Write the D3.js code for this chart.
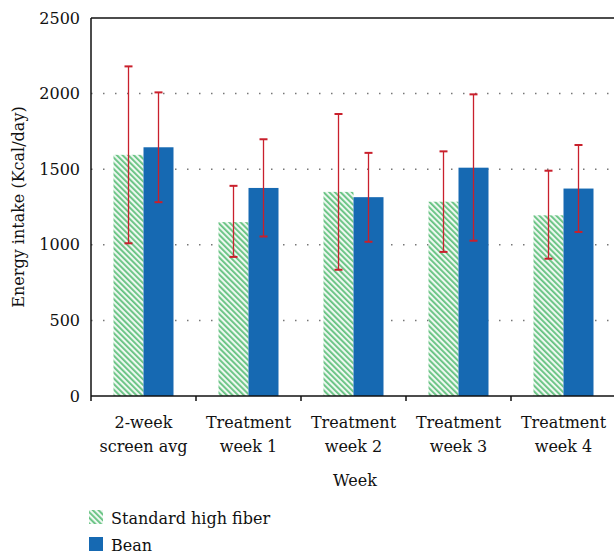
<!DOCTYPE html>
<html><head><meta charset="utf-8">
<script src="https://cdn.jsdelivr.net/npm/d3@7"></script>
<style>body{margin:0;background:#fff}svg{display:block}</style>
</head><body>
<svg id="c" width="614" height="554"></svg>
<script>
const categories = [["2-week","screen avg"],["Treatment","week 1"],["Treatment","week 2"],["Treatment","week 3"],["Treatment","week 4"]];
const seriesNames = ["Standard high fiber","Bean"];
const stdValues = [1595, 1150, 1350, 1285, 1195];
const stdUpper  = [2180, 1390, 1865, 1618, 1490];
const stdLower  = [1010,  920,  835,  953,  908];
const beanValues = [1645, 1376, 1315, 1510, 1372];
const beanUpper  = [2008, 1698, 1608, 1995, 1660];
const beanLower  = [1282, 1055, 1020, 1027, 1085];
const yTicks = [0, 500, 1000, 1500, 2000, 2500];

const FONT = "'DejaVu Serif', serif";
const FS = 16;
const svg = d3.select("#c");
const m = {l:91, r:616, t:18, b:396};
const x = d3.scaleBand().domain(d3.range(categories.length)).range([m.l, m.r]).paddingInner(0).paddingOuter(0);
const y = d3.scaleLinear().domain([0,2500]).range([m.b, m.t]);
const barW = 30;

const defs = svg.append("defs");
const pat = defs.append("pattern").attr("id","hatch").attr("patternUnits","userSpaceOnUse")
  .attr("width",4).attr("height",4).attr("patternTransform","rotate(-45)");
pat.append("rect").attr("width",4).attr("height",4).attr("fill","#eef8f1");
pat.append("rect").attr("width",1.8).attr("height",4).attr("fill","#62c17e");

// grid
svg.append("g").selectAll("line").data(yTicks.filter(d=>d>0 && d<2500)).join("line")
  .attr("x1",m.l).attr("x2",614).attr("y1",d=>y(d)).attr("y2",d=>y(d))
  .attr("stroke","#777").attr("stroke-width",1.5).attr("stroke-dasharray","1.5,10.5");

// bars
const series = [
  {vals:stdValues, up:stdUpper, lo:stdLower, off:-barW, fill:"url(#hatch)"},
  {vals:beanValues, up:beanUpper, lo:beanLower, off:0, fill:"#1669b2"}
];
series.forEach(s=>{
  svg.append("g").selectAll("rect").data(s.vals).join("rect")
    .attr("x",(d,i)=>x(i)+x.bandwidth()/2+s.off)
    .attr("width",barW)
    .attr("y",d=>y(d)).attr("height",d=>y(0)-y(d))
    .attr("fill",s.fill);
});
// error bars
series.forEach(s=>{
  const g = svg.append("g").attr("stroke","#c9202c").attr("stroke-width",1.3);
  s.vals.forEach((v,i)=>{
    const cx = x(i)+x.bandwidth()/2+s.off+barW/2;
    g.append("line").attr("x1",cx).attr("x2",cx).attr("y1",y(s.up[i])).attr("y2",y(s.lo[i]));
    g.append("line").attr("x1",cx-4).attr("x2",cx+4).attr("y1",y(s.up[i])).attr("y2",y(s.up[i])).attr("stroke-width",2);
    g.append("line").attr("x1",cx-4).attr("x2",cx+4).attr("y1",y(s.lo[i])).attr("y2",y(s.lo[i])).attr("stroke-width",2);
  });
});

// axes
const ya = svg.append("g").attr("transform",`translate(${m.l},0)`)
  .call(d3.axisLeft(y).tickValues(yTicks).tickSize(0).tickPadding(11).tickFormat(d3.format("d")));
ya.select(".domain").remove();
ya.attr("font-family",FONT).attr("font-size",FS);
ya.selectAll("text").attr("fill","#111").attr("font-family",FONT).attr("font-size",FS);
svg.append("line").attr("x1",m.l).attr("x2",m.l).attr("y1",m.t).attr("y2",m.b).attr("stroke","#111").attr("stroke-width",1.5);
svg.append("line").attr("x1",m.l).attr("x2",614).attr("y1",m.t).attr("y2",m.t).attr("stroke","#111").attr("stroke-width",1.5);
svg.append("line").attr("x1",m.l).attr("x2",614).attr("y1",m.b).attr("y2",m.b).attr("stroke","#111").attr("stroke-width",1.5);
svg.append("g").selectAll("line").data(d3.range(categories.length+1)).join("line")
  .attr("x1",d=>m.l+d*x.bandwidth()).attr("x2",d=>m.l+d*x.bandwidth())
  .attr("y1",m.b).attr("y2",m.b+5).attr("stroke","#111").attr("stroke-width",1.5);

function txt(sel){ return sel.attr("font-family",FONT).attr("font-size",FS).attr("fill","#111"); }
// category labels
categories.forEach((c,i)=>{
  const t = txt(svg.append("text")).attr("text-anchor","middle").attr("x",x(i)+x.bandwidth()/2);
  t.append("tspan").attr("x",x(i)+x.bandwidth()/2).attr("y",428).text(c[0]);
  t.append("tspan").attr("x",x(i)+x.bandwidth()/2).attr("y",452).text(c[1]);
});
txt(svg.append("text")).attr("x",355).attr("y",486).attr("text-anchor","middle").text("Week");
txt(svg.append("text")).attr("transform","translate(24,207) rotate(-90)").attr("text-anchor","middle")
  .text("Energy intake (Kcal/day)");

// legend
const lg = svg.append("g");
[["url(#hatch)",510],["#1669b2",537]].forEach((d,i)=>{
  lg.append("rect").attr("x",89).attr("y",d[1]).attr("width",14).attr("height",14).attr("fill",d[0]);
  txt(lg.append("text")).attr("x",111).attr("y",d[1]+14).text(seriesNames[i]);
});
</script>
</body></html>
